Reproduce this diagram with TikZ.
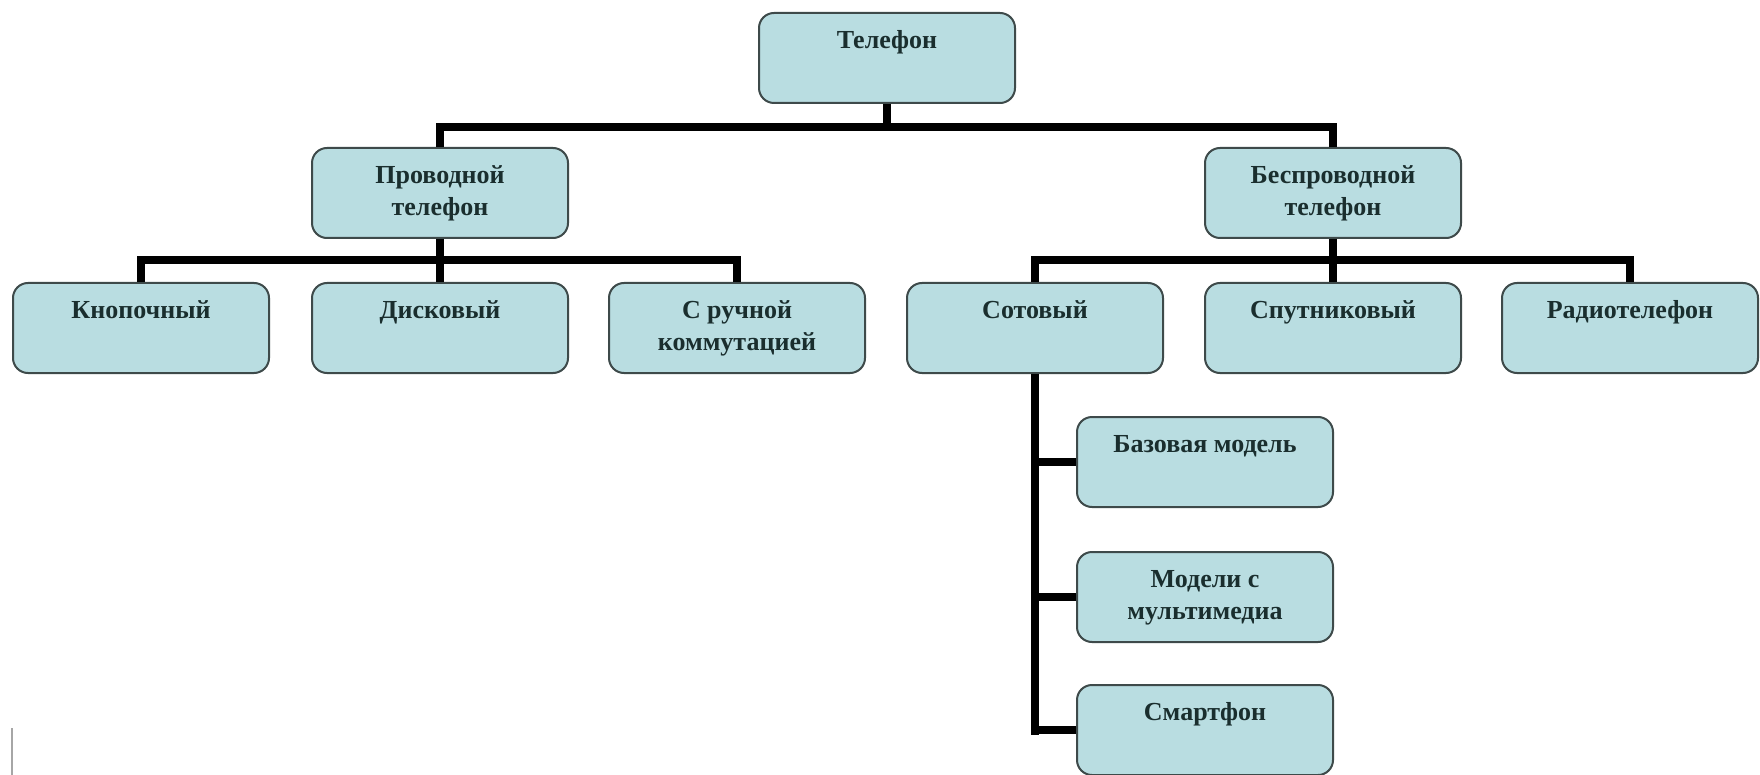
\documentclass[tikz,border=0pt]{standalone}
\usepackage{fontspec}
\setmainfont{Liberation Serif}
\definecolor{boxfill}{HTML}{B9DDE1}
\definecolor{boxline}{HTML}{3E4A4A}
\definecolor{txt}{HTML}{1A2E2E}
\newcommand{\bt}[1]{\parbox[c][90pt][t]{250pt}{\vspace*{13pt}\centering\strut #1\par}}
\tikzset{
  tbox/.style={draw=boxline, fill=boxfill, line width=2pt, rounded corners=15pt,
    minimum width=256pt, minimum height=90pt, inner sep=0pt, text=txt,
    font=\fontsize{26}{32}\selectfont\bfseries},
  conn/.style={line width=8pt, draw=black, line join=miter}
}
\begin{document}
\begin{tikzpicture}[x=1pt,y=-1pt]
\useasboundingbox (0,0) rectangle (1760,775);
\fill[white] (0,0) rectangle (1760,775);
\node[tbox] (tel)   at (887,58)   {\bt{Телефон}};
\node[tbox] (prov)  at (440,193)  {\bt{Проводной\\телефон}};
\node[tbox] (besp)  at (1333,193) {\bt{Беспроводной\\телефон}};
\node[tbox] (knop)  at (141,328)  {\bt{Кнопочный}};
\node[tbox] (disk)  at (440,328)  {\bt{Дисковый}};
\node[tbox] (ruch)  at (737,328)  {\bt{С ручной\\коммутацией}};
\node[tbox] (sot)   at (1035,328) {\bt{Сотовый}};
\node[tbox] (sput)  at (1333,328) {\bt{Спутниковый}};
\node[tbox] (radio) at (1630,328) {\bt{Радиотелефон}};
\node[tbox] (base)  at (1205,462) {\bt{Базовая модель}};
\node[tbox] (multi) at (1205,597) {\bt{Модели с\\мультимедиа}};
\node[tbox] (smart) at (1205,730) {\bt{Смартфон}};
\coordinate (b1) at (0,127);
\coordinate (b2) at (0,260);
\coordinate (b3) at (0,735);
\draw[conn] (tel.south) -- (tel.south |- b1);
\draw[conn] (prov.north) -- (prov.north |- b1) -- (besp.north |- b1) -- (besp.north);
\draw[conn] (prov.south) -- (prov.south |- b2);
\draw[conn] (knop.north) -- (knop.north |- b2) -- (ruch.north |- b2) -- (ruch.north);
\draw[conn] (disk.north) -- (disk.north |- b2);
\draw[conn] (besp.south) -- (besp.south |- b2);
\draw[conn] (sot.north) -- (sot.north |- b2) -- (radio.north |- b2) -- (radio.north);
\draw[conn] (sput.north) -- (sput.north |- b2);
\draw[conn] (sot.south) -- (sot.south |- b3);
\draw[conn] (sot.south |- base.west) -- (base.west);
\draw[conn] (sot.south |- multi.west) -- (multi.west);
\draw[conn] (sot.south |- smart.west) -- (smart.west);
\draw[gray!70, line width=2.5pt] (12,728) -- (12,775);
\end{tikzpicture}
\end{document}
